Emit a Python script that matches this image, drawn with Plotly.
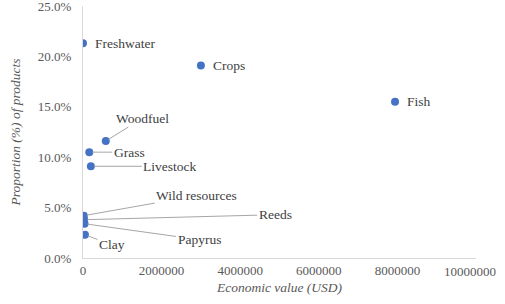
import plotly.graph_objects as go

products = ["Freshwater", "Crops", "Fish", "Woodfuel", "Grass", "Livestock",
            "Wild resources", "Reeds", "Papyrus", "Clay"]
economic_value = [0, 3000000, 7940000, 580000, 160000, 200000,
                  20000, 30000, 40000, 50000]
proportion = [0.213, 0.191, 0.155, 0.116, 0.105, 0.091,
              0.042, 0.038, 0.034, 0.023]

x_ticks = [0, 2000000, 4000000, 6000000, 8000000, 10000000]
x_tick_labels = ["0", "2000000", "4000000", "6000000", "8000000", "10000000"]
y_ticks = [0, 0.05, 0.10, 0.15, 0.20, 0.25]

# label placement: (show leader, ax offset px, ay offset px)
label_pos = {
    "Freshwater": (False, 10, 0),
    "Crops": (False, 10, 0),
    "Fish": (False, 10, 0),
    "Woodfuel": (True, 37, -23),
    "Grass": (True, 40, 0),
    "Livestock": (True, 79, 0),
    "Wild resources": (True, 113, -20),
    "Reeds": (True, 191, -5),
    "Papyrus": (True, 115, 16),
    "Clay": (True, 27, 10),
}

FONT = "'Liberation Serif', 'Times New Roman', Times, serif"
TXT = "#404040"
GREY = "#595959"

fig = go.Figure()
fig.add_trace(go.Scatter(
    x=economic_value, y=proportion, mode="markers",
    marker=dict(color="#4472C4", size=8),
    hoverinfo="text", text=products, showlegend=False,
))

for name, xv, yv in zip(products, economic_value, proportion):
    leader, ax, ay = label_pos[name]
    if leader:
        fig.add_annotation(
            x=xv, y=yv, text=name, showarrow=True, arrowhead=0,
            arrowwidth=1, arrowcolor="#a6a6a6", ax=ax, ay=ay,
            standoff=3, font=dict(family=FONT, size=13.5, color=TXT),
        )
    else:
        fig.add_annotation(
            x=xv, y=yv, text=name, showarrow=False, xanchor="left",
            xshift=ax, yshift=ay,
            font=dict(family=FONT, size=13.5, color=TXT),
        )

# last x tick label, kept inside the picture
fig.add_annotation(
    x=x_ticks[-1], y=0, xref="x", yref="paper", text=x_tick_labels[-1],
    showarrow=False, xanchor="right", yanchor="top", yshift=-4, xshift=22,
    font=dict(family=FONT, size=13, color=GREY),
)

fig.update_layout(
    width=505, height=304,
    margin=dict(l=83, r=29, t=6, b=46),
    paper_bgcolor="white", plot_bgcolor="white",
    font=dict(family=FONT, size=13, color=GREY),
)
fig.update_xaxes(
    range=[0, 10000000], tickvals=x_ticks,
    ticktext=x_tick_labels[:-1] + [""],
    tickangle=0,
    showgrid=False, zeroline=False, showline=True, linecolor="#d9d9d9",
    linewidth=1, ticks="", automargin=False, ticklabeloverflow="allow",
    tickfont=dict(family=FONT, size=13, color=GREY),
    title=dict(text="<i>Economic value (USD)</i>", standoff=5,
               font=dict(family=FONT, size=13.5, color=GREY)),
)
fig.update_yaxes(
    range=[0, 0.25], tickvals=y_ticks, tickformat=".1%",
    showgrid=False, zeroline=False, showline=True, linecolor="#d9d9d9",
    linewidth=1, ticks="", automargin=False, ticklabeloverflow="allow",
    ticklabelstandoff=8,
    tickfont=dict(family=FONT, size=13, color=GREY),
    title=dict(text="<i>Proportion (%) of products</i>", standoff=14,
               font=dict(family=FONT, size=13.5, color=GREY)),
)

fig.write_html("out.html", config={"displayModeBar": False},
               post_script="document.body.style.margin='0';")
